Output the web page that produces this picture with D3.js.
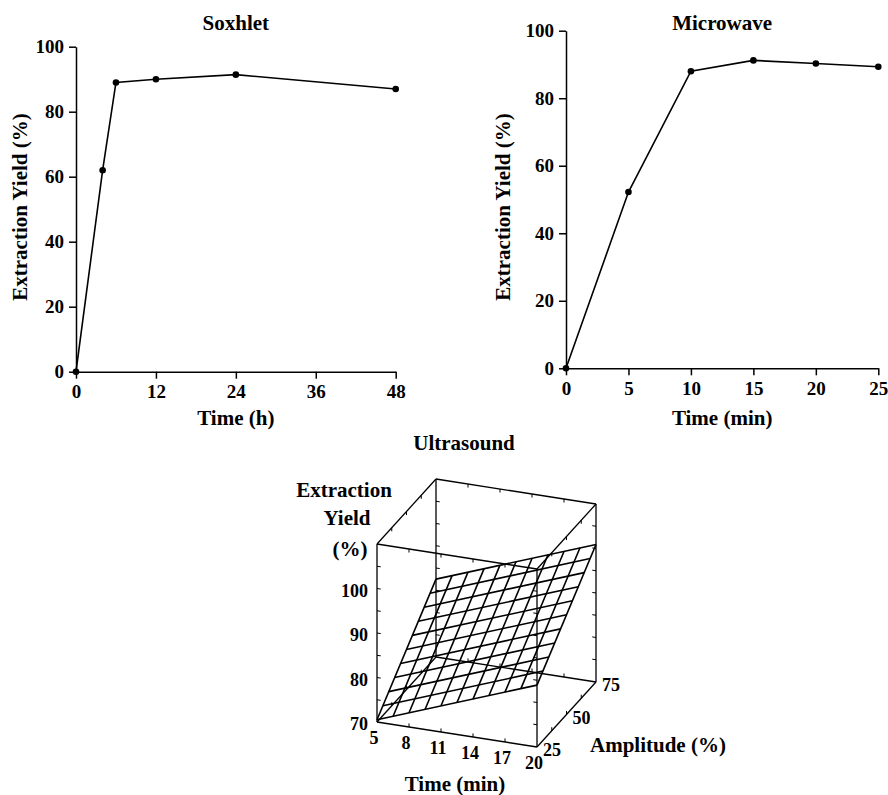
<!DOCTYPE html>
<html>
<head>
<meta charset="utf-8">
<style>
    body { margin: 0; background: #fff; }
    svg { display: block; font-family: 'Liberation Serif', 'Times New Roman', serif; font-weight: bold; }
    .axis .domain, .axis line { stroke: #000; stroke-width: 1.5; }
    .axis text { font-size: 19px; font-family: 'Liberation Serif', serif; font-weight: bold; fill: #000; }
    .lab { font-size: 21px; fill: #000; }
    .tick3d { font-size: 18px; fill: #000; }
</style>
</head>
<body>
<svg width="888" height="795"></svg>
<script src="https://d3js.org/d3.v7.min.js"></script>
<script>
    // soxhlet kinetics
    let soxTime = [0, 4, 6, 12, 24, 48]
    let soxYield = [0, 62, 89, 90, 91.4, 87]
    let soxTicks = [0, 12, 24, 36, 48]

    // microwave kinetics
    let mwTime = [0, 5, 10, 15, 20, 25]
    let mwYield = [0, 52.2, 88, 91.2, 90.3, 89.3]
    let mwTicks = [0, 5, 10, 15, 20, 25]

    let yieldTicks = [0, 20, 40, 60, 80, 100]

    // ultrasound response surface
    let usTimeTicks = [5, 8, 11, 14, 17, 20]
    let usAmpTicks = [25, 50, 75]
    let usYieldTicks = [70, 80, 90, 100]
    let usYieldMinor = [75, 80, 85, 90, 95, 100, 105]
    let meshTime = [5, 6.5, 8, 9.5, 11, 12.5, 14, 15.5, 17, 18.5, 20]
    let meshAmp = [25, 30, 35, 40, 45, 50, 55, 60, 65, 70, 75]
    let yieldFront = [70.5, 71.8, 73.2, 74.5, 75.9, 77.2, 78.5, 79.9, 81.2, 82.6, 83.9]   // amplitude 25
    let yieldBack = [87.5, 88.8, 90.2, 91.5, 92.9, 94.2, 95.5, 96.9, 98.2, 99.6, 100.9]   // amplitude 75
    let yieldLeft = [70.5, 72.2, 73.9, 75.6, 77.3, 79.0, 80.7, 82.4, 84.1, 85.8, 87.5]    // time 5
    let yieldRight = [83.9, 85.6, 87.3, 89.0, 90.7, 92.4, 94.1, 95.8, 97.5, 99.2, 100.9]  // time 20

    let svg = d3.select("svg")

    function kinetics(o) {
        let x = d3.scaleLinear().domain(o.xDomain).range(o.xRange)
        let y = d3.scaleLinear().domain([0, 100]).range(o.yRange)

        svg.append("g")
            .attr("class", "axis")
            .attr("transform", `translate(0,${o.yRange[0]})`)
            .call(d3.axisBottom(x).tickValues(o.ticks).tickSize(7).tickPadding(6).tickSizeOuter(0))

        svg.append("g")
            .attr("class", "axis")
            .attr("transform", `translate(${o.xRange[0]},0)`)
            .call(d3.axisLeft(y).tickValues(yieldTicks).tickSize(7).tickPadding(5).tickSizeOuter(0))

        let line = d3.line()
            .x((d, i) => x(o.xs[i]))
            .y(d => y(d))

        svg.append("path")
            .attr("d", line(o.ys))
            .style("fill", "none")
            .style("stroke", "#000")
            .style("stroke-width", 1.6)

        svg.selectAll(null)
            .data(o.ys)
            .join("circle")
            .attr("cx", (d, i) => x(o.xs[i]))
            .attr("cy", d => y(d))
            .attr("r", 3.3)
            .style("fill", "#000")

        let cx = (o.xRange[0] + o.xRange[1]) / 2
        svg.append("text").attr("class", "lab")
            .attr("x", cx).attr("y", 23).attr("dominant-baseline", "central")
            .attr("text-anchor", "middle").text(o.title)
        svg.append("text").attr("class", "lab")
            .attr("x", cx).attr("y", 418).attr("dominant-baseline", "central")
            .attr("text-anchor", "middle").text(o.xLabel)
        svg.append("text").attr("class", "lab")
            .attr("transform", `translate(${o.yLabelX},207) rotate(-90)`)
            .attr("dominant-baseline", "central")
            .attr("text-anchor", "middle").text("Extraction Yield (%)")
    }

    kinetics({ title: "Soxhlet", xLabel: "Time (h)", xs: soxTime, ys: soxYield, ticks: soxTicks,
        xDomain: [0, 48], xRange: [76, 395.7], yRange: [371.7, 46.7], yLabelX: 20 })

    kinetics({ title: "Microwave", xLabel: "Time (min)", xs: mwTime, ys: mwYield, ticks: mwTicks,
        xDomain: [0, 25], xRange: [566, 878.3], yRange: [368.3, 30.7], yLabelX: 503 })

    // 3d box, parallel projection
    let tS = d3.scaleLinear().domain([5, 20]).range([0, 1])
    let aS = d3.scaleLinear().domain([25, 75]).range([0, 1])
    let zS = d3.scaleLinear().domain([70, 110]).range([0, 1])
    let origin = [377, 722], ex = [160, 25], ey = [59, -65], ez = [0, -178]

    function proj(t, a, z) {
        let u = tS(t), v = aS(a), w = zS(z)
        return [origin[0] + u * ex[0] + v * ey[0] + w * ez[0],
                origin[1] + u * ex[1] + v * ey[1] + w * ez[1]]
    }

    let g3 = svg.append("g")
    function seg(p, q, w) {
        let a = proj(...p), b = proj(...q)
        g3.append("line")
            .attr("x1", a[0]).attr("y1", a[1]).attr("x2", b[0]).attr("y2", b[1])
            .style("stroke", "#000").style("stroke-width", w)
    }

    let T = tS.domain(), A = aS.domain(), Z = zS.domain()
    let edges = []
    A.forEach(a => Z.forEach(z => edges.push([[T[0], a, z], [T[1], a, z]])))
    T.forEach(t => Z.forEach(z => edges.push([[t, A[0], z], [t, A[1], z]])))
    T.forEach(t => A.forEach(a => edges.push([[t, a, Z[0]], [t, a, Z[1]]])))
    edges.forEach(e => seg(e[0], e[1], 1.3))

    // small ticks on the box edges
    T.forEach(t => A.forEach(a => usYieldMinor.forEach(z => {
        let dt = t == T[0] ? 0.35 : -0.35
        seg([t, a, z], [t + dt, a, z], 1)
    })))
    A.forEach(a => Z.forEach(z => usTimeTicks.slice(1, -1).forEach(t => {
        let dz = z == Z[0] ? 0.8 : -0.8
        seg([t, a, z], [t, a, z + dz], 1)
    })))
    T.forEach(t => Z.forEach(z => [37.5, 50, 62.5].forEach(a => {
        let dz = z == Z[0] ? 0.8 : -0.8
        seg([t, a, z], [t, a, z + dz], 1)
    })))

    // response surface mesh
    meshTime.forEach((t, i) => seg([t, A[0], yieldFront[i]], [t, A[1], yieldBack[i]], 1.6))
    meshAmp.forEach((a, j) => seg([T[0], a, yieldLeft[j]], [T[1], a, yieldRight[j]], 1.6))

    // 3d tick labels
    usYieldTicks.forEach(z => {
        let p = proj(T[0], A[0], z)
        svg.append("text").attr("class", "tick3d")
            .attr("x", p[0] - 9).attr("y", p[1] + 2)
            .attr("text-anchor", "end").attr("dominant-baseline", "central").text(z)
    })
    usTimeTicks.forEach(t => {
        let p = proj(t, A[0], Z[0])
        svg.append("text").attr("class", "tick3d")
            .attr("x", p[0] - 3).attr("y", p[1] + 16)
            .attr("text-anchor", "middle").attr("dominant-baseline", "central").text(t)
    })
    usAmpTicks.forEach(a => {
        let p = proj(T[1], a, Z[0])
        svg.append("text").attr("class", "tick3d")
            .attr("x", p[0] + 15).attr("y", p[1] + 3)
            .attr("text-anchor", "middle").attr("dominant-baseline", "central").text(a)
    })

    svg.append("text").attr("class", "lab").attr("x", 464).attr("y", 443)
        .attr("text-anchor", "middle").attr("dominant-baseline", "central").text("Ultrasound")
    svg.append("text").attr("class", "lab").attr("x", 344).attr("y", 490)
        .attr("text-anchor", "middle").attr("dominant-baseline", "central").text("Extraction")
    svg.append("text").attr("class", "lab").attr("x", 347).attr("y", 518)
        .attr("text-anchor", "middle").attr("dominant-baseline", "central").text("Yield")
    svg.append("text").attr("class", "lab").attr("x", 350).attr("y", 549)
        .attr("text-anchor", "middle").attr("dominant-baseline", "central").text("(%)")
    svg.append("text").attr("class", "lab").attr("x", 455).attr("y", 784)
        .attr("text-anchor", "middle").attr("dominant-baseline", "central").text("Time (min)")
    svg.append("text").attr("class", "lab").attr("x", 590).attr("y", 745)
        .attr("text-anchor", "start").attr("dominant-baseline", "central").text("Amplitude (%)")
</script>
</body>
</html>
